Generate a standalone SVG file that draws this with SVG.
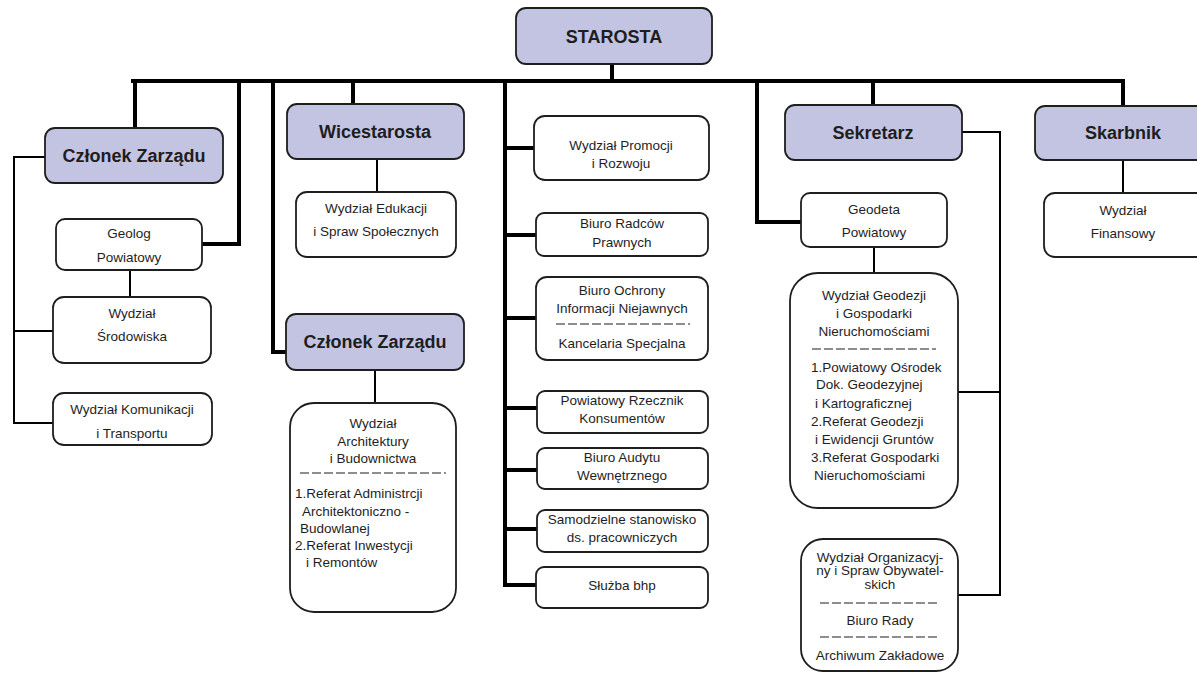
<svg xmlns="http://www.w3.org/2000/svg" width="1197" height="674" viewBox="0 0 1197 674">
<style>
.head rect{fill:#c3c3e2;stroke:#1e1e1e;stroke-width:1.8}
.box rect{fill:#ffffff;stroke:#1e1e1e;stroke-width:1.8}
.head text{font-family:"Liberation Sans",Arial,sans-serif;font-weight:bold;font-size:18px;fill:#1e1e1e;text-anchor:middle}
.box text{font-family:"Liberation Sans",Arial,sans-serif;font-size:13.5px;fill:#1e1e1e;text-anchor:middle}
.box text.l{text-anchor:start}
.dash{stroke:#1e1e1e;stroke-width:1.2;stroke-dasharray:9 3;fill:none}
.thick{stroke:#000;stroke-width:4;fill:none;stroke-linejoin:miter}
.thin{stroke:#000;stroke-width:2;fill:none}
</style>
<rect width="1197" height="674" fill="#ffffff"/>
<g id="connectors">
<path class="thick" d="M612,64V81M131,81H1125"/>
<path class="thick" d="M135,81V128"/>
<path class="thick" d="M239,81V244H202"/>
<path class="thick" d="M273,81V352H286"/>
<path class="thick" d="M353,81V104"/>
<path class="thick" d="M505,81V585H536M505,148H534M505,235H536M505,318H536M505,408H537M505,470H537M505,529H537"/>
<path class="thick" d="M757,81V222H801"/>
<path class="thick" d="M873,81V105"/>
<path class="thick" d="M1123,81V106"/>
<path class="thin" d="M45,157H14V423H53M14,331H53"/>
<path class="thin" d="M130,270V297"/>
<path class="thin" d="M377,159V192"/>
<path class="thin" d="M375,370V403"/>
<path class="thin" d="M962,132H1000V595H958M1000,392H958"/>
<path class="thin" d="M874,247V273"/>
<path class="thin" d="M1123,160V193"/>
</g>
<g id="starosta" class="head"><rect x="516" y="8" width="196" height="56" rx="10"/><text x="614" y="43">STAROSTA</text></g>
<g id="czlonek1" class="head"><rect x="45" y="128" width="178" height="55" rx="10"/><text x="134" y="162">Członek Zarządu</text></g>
<g id="geolog" class="box"><rect x="56" y="219" width="146" height="51" rx="9"/><text x="129" y="238">Geolog</text><text x="129" y="262">Powiatowy</text></g>
<g id="srodowiska" class="box"><rect x="53" y="297" width="158" height="66" rx="11"/><text x="132" y="318">Wydział</text><text x="132" y="341">Środowiska</text></g>
<g id="komunikacji" class="box"><rect x="53" y="393" width="159" height="52" rx="11"/><text x="132" y="414">Wydział Komunikacji</text><text x="132" y="438">i  Transportu</text></g>
<g id="wicestarosta" class="head"><rect x="287" y="104" width="177" height="55" rx="10"/><text x="375" y="138">Wicestarosta</text></g>
<g id="edukacji" class="box"><rect x="296" y="192" width="160" height="65" rx="11"/><text x="376" y="213">Wydział Edukacji</text><text x="376" y="236">i Spraw Społecznych</text></g>
<g id="czlonek2" class="head"><rect x="286" y="314" width="178" height="56" rx="10"/><text x="375" y="348">Członek Zarządu</text></g>
<g id="architektury" class="box"><rect x="290" y="403" width="166" height="209" rx="24"/>
<text x="373" y="428">Wydział</text><text x="373" y="446">Architektury</text><text x="373" y="463">i Budownictwa</text>
<line class="dash" x1="300" y1="473" x2="446" y2="473"/>
<text class="l" x="295" y="498">1.Referat Administrcji</text><text class="l" x="302" y="516">Architektoniczno -</text><text class="l" x="300" y="533">Budowlanej</text><text class="l" x="295" y="550">2.Referat Inwestycji</text><text class="l" x="306" y="567">i Remontów</text></g>
<g id="promocji" class="box"><rect x="534" y="116" width="175" height="64" rx="11"/><text x="621" y="150">Wydział Promocji</text><text x="621" y="168">i Rozwoju</text></g>
<g id="radcow" class="box"><rect x="536" y="213" width="172" height="43" rx="8"/><text x="622" y="228">Biuro Radców</text><text x="622" y="247">Prawnych</text></g>
<g id="ochrony" class="box"><rect x="536" y="277" width="172" height="83" rx="11"/><text x="622" y="295">Biuro Ochrony</text><text x="622" y="313">Informacji Niejawnych</text>
<line class="dash" x1="556" y1="324" x2="690" y2="324"/><text x="622" y="348">Kancelaria Specjalna</text></g>
<g id="rzecznik" class="box"><rect x="537" y="391" width="171" height="42" rx="8"/><text x="622" y="405">Powiatowy Rzecznik</text><text x="622" y="423">Konsumentów</text></g>
<g id="audytu" class="box"><rect x="537" y="448" width="171" height="41" rx="8"/><text x="622" y="462">Biuro Audytu</text><text x="622" y="480">Wewnętrznego</text></g>
<g id="samodzielne" class="box"><rect x="537" y="510" width="171" height="42" rx="8"/><text x="622" y="524">Samodzielne stanowisko</text><text x="622" y="542">ds. pracowniczych</text></g>
<g id="bhp" class="box"><rect x="536" y="567" width="172" height="41" rx="8"/><text x="622" y="590">Służba bhp</text></g>
<g id="sekretarz" class="head"><rect x="785" y="105" width="177" height="55" rx="10"/><text x="873" y="139">Sekretarz</text></g>
<g id="geodeta" class="box"><rect x="801" y="193" width="146" height="54" rx="9"/><text x="874" y="214">Geodeta</text><text x="874" y="237">Powiatowy</text></g>
<g id="geodezji" class="box"><rect x="790" y="273" width="168" height="235" rx="28"/>
<text x="874" y="300">Wydział Geodezji</text><text x="874" y="318">i Gospodarki</text><text x="874" y="336">Nieruchomościami</text>
<line class="dash" x1="812" y1="349" x2="936" y2="349"/>
<text class="l" x="811" y="372">1.Powiatowy Ośrodek</text><text class="l" x="816" y="389">Dok. Geodezyjnej</text><text class="l" x="815" y="408">i Kartograficznej</text><text class="l" x="811" y="426">2.Referat Geodezji</text><text class="l" x="815" y="444">i Ewidencji Gruntów</text><text class="l" x="811" y="462">3.Referat Gospodarki</text><text class="l" x="814" y="480">Nieruchomościami</text></g>
<g id="organizacyjny" class="box"><rect x="801" y="539" width="157" height="132" rx="22"/>
<text x="880" y="562">Wydział Organizacyj-</text><text x="880" y="575">ny i Spraw Obywatel-</text><text x="880" y="589">skich</text>
<line class="dash" x1="820" y1="603" x2="940" y2="603"/><text x="880" y="625">Biuro Rady</text>
<line class="dash" x1="820" y1="637" x2="940" y2="637"/><text x="880" y="660">Archiwum Zakładowe</text></g>
<g id="skarbnik" class="head"><rect x="1035" y="106" width="177" height="54" rx="10"/><text x="1123" y="139">Skarbnik</text></g>
<g id="finansowy" class="box"><rect x="1044" y="193" width="165" height="64" rx="11"/><text x="1123" y="215">Wydział</text><text x="1123" y="238">Finansowy</text></g>
</svg>
